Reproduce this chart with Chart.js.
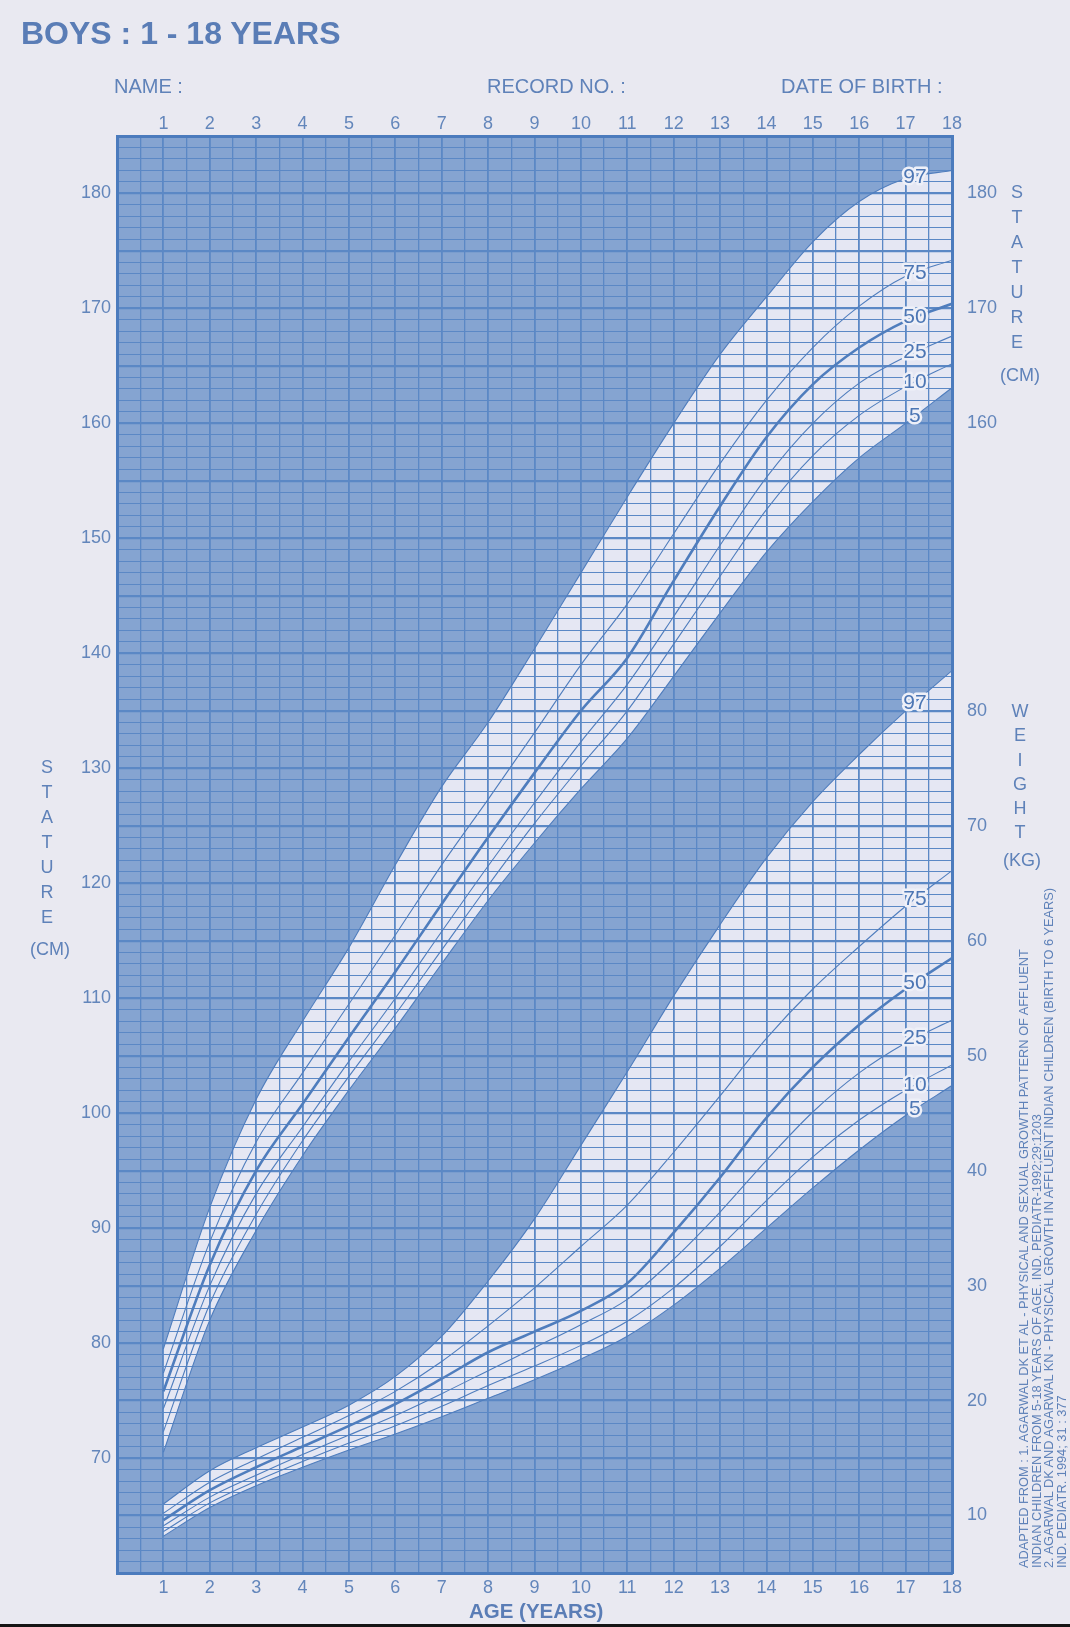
<!DOCTYPE html>
<html>
<head>
<meta charset="utf-8">
<title>Boys 1-18 years</title>
<script src="https://cdn.jsdelivr.net/npm/chart.js@4.4.1/dist/chart.umd.min.js"></script>
<style>
    html, body { margin: 0; padding: 0; }
    body {
        width: 1070px; height: 1627px; position: relative; overflow: hidden;
        background: #e9e9f1; color: #5f82b9;
        font-family: "Liberation Sans", Arial, sans-serif;
    }
    #plotBg { position: absolute; background: #85a4d1; }
    #growth { position: absolute; left: 0; top: 0; }
    .t { position: absolute; white-space: nowrap; }
    .title { left: 21px; top: 15px; font-size: 32px; font-weight: bold; color: #5a7db6; }
    .head { top: 75px; font-size: 20px; }
    .stack { text-align: center; font-size: 18px; line-height: 25px; width: 40px; }
    .age { left: 469px; top: 1599px; font-size: 20.5px; font-weight: bold; color: #5a7db6; }
    .cite {
        left: 1018px; top: 1568px; font-size: 12.8px; line-height: 12.5px;
        transform-origin: 0 0; transform: rotate(-90deg);
    }
    #edge { position: absolute; left: 0; bottom: 0; width: 1070px; height: 3px; background: #151515; }
</style>
</head>
<body>
<div id="plotBg"></div>
<canvas id="growth" width="1070" height="1627"></canvas>

<div class="t title">BOYS : 1 - 18 YEARS</div>
<div class="t head" style="left:114px">NAME :</div>
<div class="t head" style="left:487px">RECORD NO. :</div>
<div class="t head" style="left:781px">DATE OF BIRTH :</div>

<div class="t stack" style="left:27px; top:755px">S<br>T<br>A<br>T<br>U<br>R<br>E</div>
<div class="t stack" style="left:25px; top:937px; width:50px">(CM)</div>
<div class="t stack" style="left:997px; top:180px">S<br>T<br>A<br>T<br>U<br>R<br>E</div>
<div class="t stack" style="left:995px; top:363px; width:50px">(CM)</div>
<div class="t stack" style="left:1000px; top:699px; line-height:24.3px">W<br>E<br>I<br>G<br>H<br>T</div>
<div class="t stack" style="left:997px; top:848px; width:50px">(KG)</div>

<div class="t cite">ADAPTED FROM : 1. AGARWAL DK ET AL - PHYSICAL AND SEXUAL GROWTH PATTERN OF AFFLUENT<br>INDIAN CHILDREN FROM 5-18 YEARS OF AGE. IND. PEDIATR-1992;29:1203<br>2. AGARWAL DK AND AGARWAL KN - PHYSICAL GROWTH IN AFFLUENT INDIAN CHILDREN (BIRTH TO 6 YEARS)<br>IND. PEDIATR. 1994; 31 : 377</div>

<div class="t age">AGE (YEARS)</div>
<div id="edge"></div>

<script>
// ages 1..18
const ages = [1, 2, 3, 4, 5, 6, 7, 8, 9, 10, 11, 12, 13, 14, 15, 16, 17, 18];

// stature (cm) percentiles
const stature97 = [79.5, 91.8, 101.2, 108.0, 114.4, 121.6, 128.4, 134.0, 140.4, 147.0, 153.6, 160.0, 166.0, 171.0, 175.8, 179.3, 181.3, 182.0];
const stature75 = [77.4, 88.8, 97.5, 103.5, 109.5, 115.5, 121.6, 127.3, 133.1, 139.0, 144.3, 150.4, 156.5, 162.0, 166.6, 170.2, 172.8, 174.2];
const stature50 = [75.8, 86.8, 95.0, 100.8, 106.6, 112.3, 118.2, 124.0, 129.6, 135.0, 139.6, 146.3, 152.8, 158.8, 163.4, 166.6, 168.9, 170.4];
const stature25 = [74.3, 85.0, 93.0, 98.8, 104.5, 110.0, 115.8, 121.5, 127.0, 132.3, 137.3, 143.2, 149.4, 155.3, 160.0, 163.5, 165.8, 167.6];
const stature10 = [72.3, 83.4, 91.2, 97.6, 103.2, 108.6, 114.2, 119.8, 125.2, 130.2, 135.0, 140.8, 146.7, 152.5, 157.2, 160.7, 163.2, 165.2];
const stature5  = [70.5, 82.0, 89.8, 96.3, 102.0, 107.4, 113.0, 118.5, 123.5, 128.2, 132.6, 138.0, 143.5, 148.8, 153.2, 157.0, 160.0, 163.1];

// weight (kg) percentiles
const weight97 = [11.0, 13.9, 15.9, 17.7, 19.6, 22.1, 25.6, 30.4, 35.8, 42.2, 48.6, 55.2, 61.4, 67.2, 72.1, 76.2, 80.0, 83.5];
const weight75 = [10.2, 12.9, 14.9, 16.8, 18.7, 20.8, 23.4, 26.5, 29.8, 33.4, 37.0, 41.6, 46.5, 51.5, 55.8, 59.5, 63.0, 66.1];
const weight50 = [9.6, 12.2, 14.2, 16.0, 17.8, 19.7, 21.9, 24.2, 26.0, 27.8, 30.2, 34.6, 39.4, 44.6, 49.0, 52.7, 55.8, 58.5];
const weight25 = [9.1, 11.6, 13.5, 15.3, 17.0, 18.7, 20.6, 22.6, 24.6, 26.6, 28.8, 32.3, 36.4, 40.9, 45.1, 48.5, 51.1, 53.1];
const weight10 = [8.6, 11.1, 13.0, 14.7, 16.3, 17.8, 19.5, 21.3, 23.0, 24.8, 26.9, 29.8, 33.4, 37.4, 41.2, 44.4, 47.0, 49.2];
const weight5  = [8.2, 10.7, 12.6, 14.2, 15.7, 17.1, 18.6, 20.2, 21.8, 23.6, 25.6, 28.3, 31.5, 35.0, 38.5, 41.8, 44.8, 47.4];

const percentiles = ['97', '75', '50', '25', '10', '5'];
const ageLabels = [1, 2, 3, 4, 5, 6, 7, 8, 9, 10, 11, 12, 13, 14, 15, 16, 17, 18];
const statureTicksLeft = [70, 80, 90, 100, 110, 120, 130, 140, 150, 160, 170, 180];
const statureTicksRight = [160, 170, 180];
const weightTicks = [10, 20, 30, 40, 50, 60, 70, 80];

const lineBlue = '#4f7dbd';
const gridBlue = '#5b88c5';
const frameBlue = '#4b7bbd';
const bandColor = '#e5e7f3';
const textBlue = '#6386bb';
const labelAge = 17.2;

Chart.defaults.font.family = "'Liberation Sans', Arial, sans-serif";

function curve(values, axis, name) {
    return {
        label: name,
        data: ages.map(function (a, i) { return { x: a, y: values[i] }; }),
        yAxisID: axis,
        borderColor: lineBlue,
        borderWidth: name === '50' ? 2.6 : 1.1,
        pointRadius: 0,
        cubicInterpolationMode: 'monotone',
        backgroundColor: bandColor,
        fill: name === '97' ? '+5' : false
    };
}

const statureSets = [stature97, stature75, stature50, stature25, stature10, stature5];
const weightSets = [weight97, weight75, weight50, weight25, weight10, weight5];
const datasets = [];
statureSets.forEach(function (v, i) { datasets.push(curve(v, 'y', percentiles[i])); });
weightSets.forEach(function (v, i) { datasets.push(curve(v, 'yW', percentiles[i])); });

// keeps the dark paper colour exactly behind the plot area
const plotBackground = {
    id: 'plotBackground',
    afterLayout(chart) {
        const a = chart.chartArea;
        const bg = document.getElementById('plotBg');
        bg.style.left = a.left + 'px';
        bg.style.top = a.top + 'px';
        bg.style.width = (a.right - a.left) + 'px';
        bg.style.height = (a.bottom - a.top) + 'px';
    }
};

// percentile numbers written over the curves near the right edge
const curveLabels = {
    id: 'curveLabels',
    afterDatasetsDraw(chart) {
        const ctx = chart.ctx;
        const xs = chart.scales.x;
        chart.data.datasets.forEach(function (ds) {
            const ys = chart.scales[ds.yAxisID];
            const n = ds.data.length;
            const p0 = ds.data[n - 2], p1 = ds.data[n - 1];
            const v = p0.y + (p1.y - p0.y) * (labelAge - p0.x) / (p1.x - p0.x);
            const px = xs.getPixelForValue(labelAge);
            const py = ys.getPixelForValue(v);
            ctx.save();
            ctx.font = '21px "Liberation Sans", Arial, sans-serif';
            ctx.textAlign = 'center';
            ctx.textBaseline = 'middle';
            ctx.lineJoin = 'round';
            ctx.lineWidth = 5;
            ctx.strokeStyle = '#eef0f8';
            ctx.strokeText(ds.label, px, py);
            ctx.fillStyle = '#4c76b4';
            ctx.fillText(ds.label, px, py);
            ctx.restore();
        });
    }
};

function ageTick(v) { return ageLabels.indexOf(v) >= 0 ? String(v) : ''; }

new Chart(document.getElementById('growth'), {
    type: 'line',
    data: { datasets: datasets },
    options: {
        responsive: false,
        animation: false,
        layout: { padding: 0 },
        plugins: {
            legend: { display: false },
            tooltip: { enabled: false },
            filler: { drawTime: 'beforeDraw' }
        },
        scales: {
            x: {
                type: 'linear', position: 'bottom', min: 0, max: 18,
                ticks: { stepSize: 0.5, autoSkip: false, maxRotation: 0, padding: 4,
                         color: textBlue, font: { size: 18 }, callback: ageTick },
                grid: { color: gridBlue, drawTicks: false,
                        lineWidth: function (c) { return Number.isInteger(c.tick.value) ? 1.8 : 1.3; } },
                border: { color: frameBlue, width: 3 },
                afterFit: function (s) { s.height = 54; }
            },
            xTop: {
                type: 'linear', position: 'top', min: 0, max: 18,
                ticks: { stepSize: 0.5, autoSkip: false, maxRotation: 0, padding: 1,
                         color: textBlue, font: { size: 18 }, callback: ageTick },
                grid: { display: false, drawTicks: false },
                border: { display: true, color: frameBlue, width: 3 },
                afterFit: function (s) { s.height = 136; }
            },
            y: {
                type: 'linear', position: 'left', min: 60, max: 185,
                ticks: { stepSize: 1, autoSkip: false, padding: 6, color: textBlue, font: { size: 18 },
                         callback: function (v) { return statureTicksLeft.indexOf(v) >= 0 ? String(v) : ''; } },
                grid: { color: gridBlue, drawTicks: false,
                        lineWidth: function (c) { return c.tick.value % 5 === 0 ? 2.2 : 1; } },
                border: { color: frameBlue, width: 3 },
                afterFit: function (s) { s.width = 117; }
            },
            yW: {
                type: 'linear', position: 'right', min: 5, max: 130,
                ticks: { stepSize: 5, autoSkip: false, padding: 15, color: textBlue, font: { size: 18 },
                         callback: function (v) {
                             if (weightTicks.indexOf(v) >= 0) return String(v);
                             if (statureTicksRight.indexOf(v + 55) >= 0) return String(v + 55);
                             return '';
                         } },
                grid: { display: false, drawTicks: false },
                border: { display: true, color: frameBlue, width: 3 },
                afterFit: function (s) { s.width = 118; }
            }
        }
    },
    plugins: [plotBackground, curveLabels]
});
</script>
</body>
</html>
